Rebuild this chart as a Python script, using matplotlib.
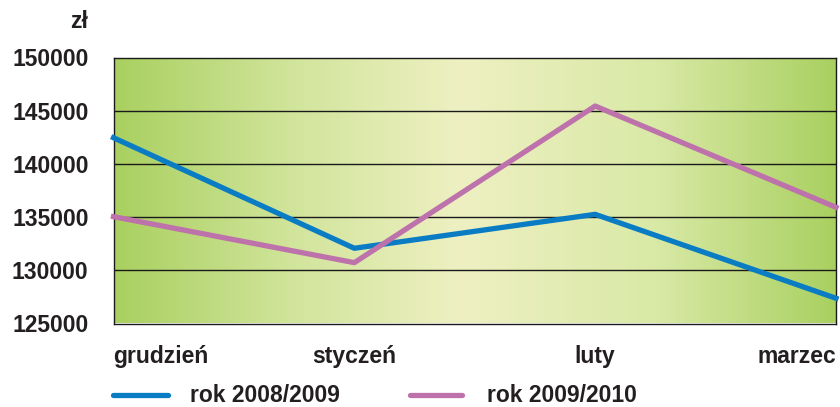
import matplotlib.pyplot as plt
import numpy as np
from matplotlib.colors import LinearSegmentedColormap
from matplotlib.lines import Line2D

plt.rcParams["font.family"] = ["Liberation Sans", "DejaVu Sans"]
plt.rcParams["font.weight"] = "bold"

months = ["grudzień", "styczeń", "luty", "marzec"]
rok_2008_2009 = [142460, 132070, 135260, 127370]
rok_2009_2010 = [135040, 130720, 145440, 135920]
series_labels = ["rok 2008/2009", "rok 2009/2010"]
y_ticks = [125000, 130000, 135000, 140000, 145000, 150000]

BLUE = "#0a7cc4"
PINK = "#be72ab"
TEXT = "#231f20"
FS = 16.5

fig = plt.figure(figsize=(8.4, 4.07), dpi=100)
ax = fig.add_axes([113.5 / 840, 1 - 323.5 / 407, (836 - 113.5) / 840, (323.5 - 57.5) / 407])

x = np.arange(len(months))

# horizontal green -> pale yellow -> green gradient background
cmap = LinearSegmentedColormap.from_list(
    "bg", [(0.0, "#a9d060"), (0.25, "#d2e59c"), (0.48, "#eef0c2"),
           (0.75, "#d9e9a6"), (1.0, "#a9d060")])
grad = np.linspace(0, 1, 256)[None, :]
ax.imshow(grad, cmap=cmap, aspect="auto", extent=[0, 3, 125000, 150000],
          zorder=0, interpolation="bicubic")

for v in y_ticks[1:-1]:
    ax.axhline(v, color="#1a1a1a", linewidth=1.0, zorder=1)

ax.plot(x, rok_2008_2009, color=BLUE, linewidth=3.8, zorder=3, clip_on=False)
ax.plot(x, rok_2009_2010, color=PINK, linewidth=3.8, zorder=3, clip_on=False)

ax.set_xlim(0, 3)
ax.set_ylim(125000, 150000)
ax.set_yticks(y_ticks)
ax.set_yticklabels([str(v) for v in y_ticks], fontsize=FS, fontweight="bold", color=TEXT)
ax.tick_params(axis="y", length=0, pad=18)
ax.set_xticks([])
for spine in ax.spines.values():
    spine.set_color("#1a1a1a")
    spine.set_linewidth(1.0)

# category labels, first and last pulled inside the figure
aligns = ["left", "center", "center", "right"]
for i, (m, ha) in enumerate(zip(months, aligns)):
    xpos = i if ha != "right" else i + 0.003
    ax.text(xpos, -0.125, m, transform=ax.get_xaxis_transform(), ha=ha, va="center",
            fontsize=FS, fontweight="bold", color=TEXT, clip_on=False)

fig.text(88 / 840, 1 - 22 / 407, "zł", ha="right", va="center",
         fontsize=FS, fontweight="bold", color=TEXT)

# legend drawn by hand at the bottom
for x0, x1, tx, col, lab in [(113, 168, 190, BLUE, series_labels[0]),
                             (410, 462, 487, PINK, series_labels[1])]:
    fig.add_artist(Line2D([x0 / 840, x1 / 840], [1 - 395 / 407] * 2, color=col,
                          linewidth=3.8, solid_capstyle="round"))
    fig.text(tx / 840, 1 - 395 / 407, lab, ha="left", va="center",
             fontsize=FS, fontweight="bold", color=TEXT)

fig.savefig("out.png", dpi=100)
